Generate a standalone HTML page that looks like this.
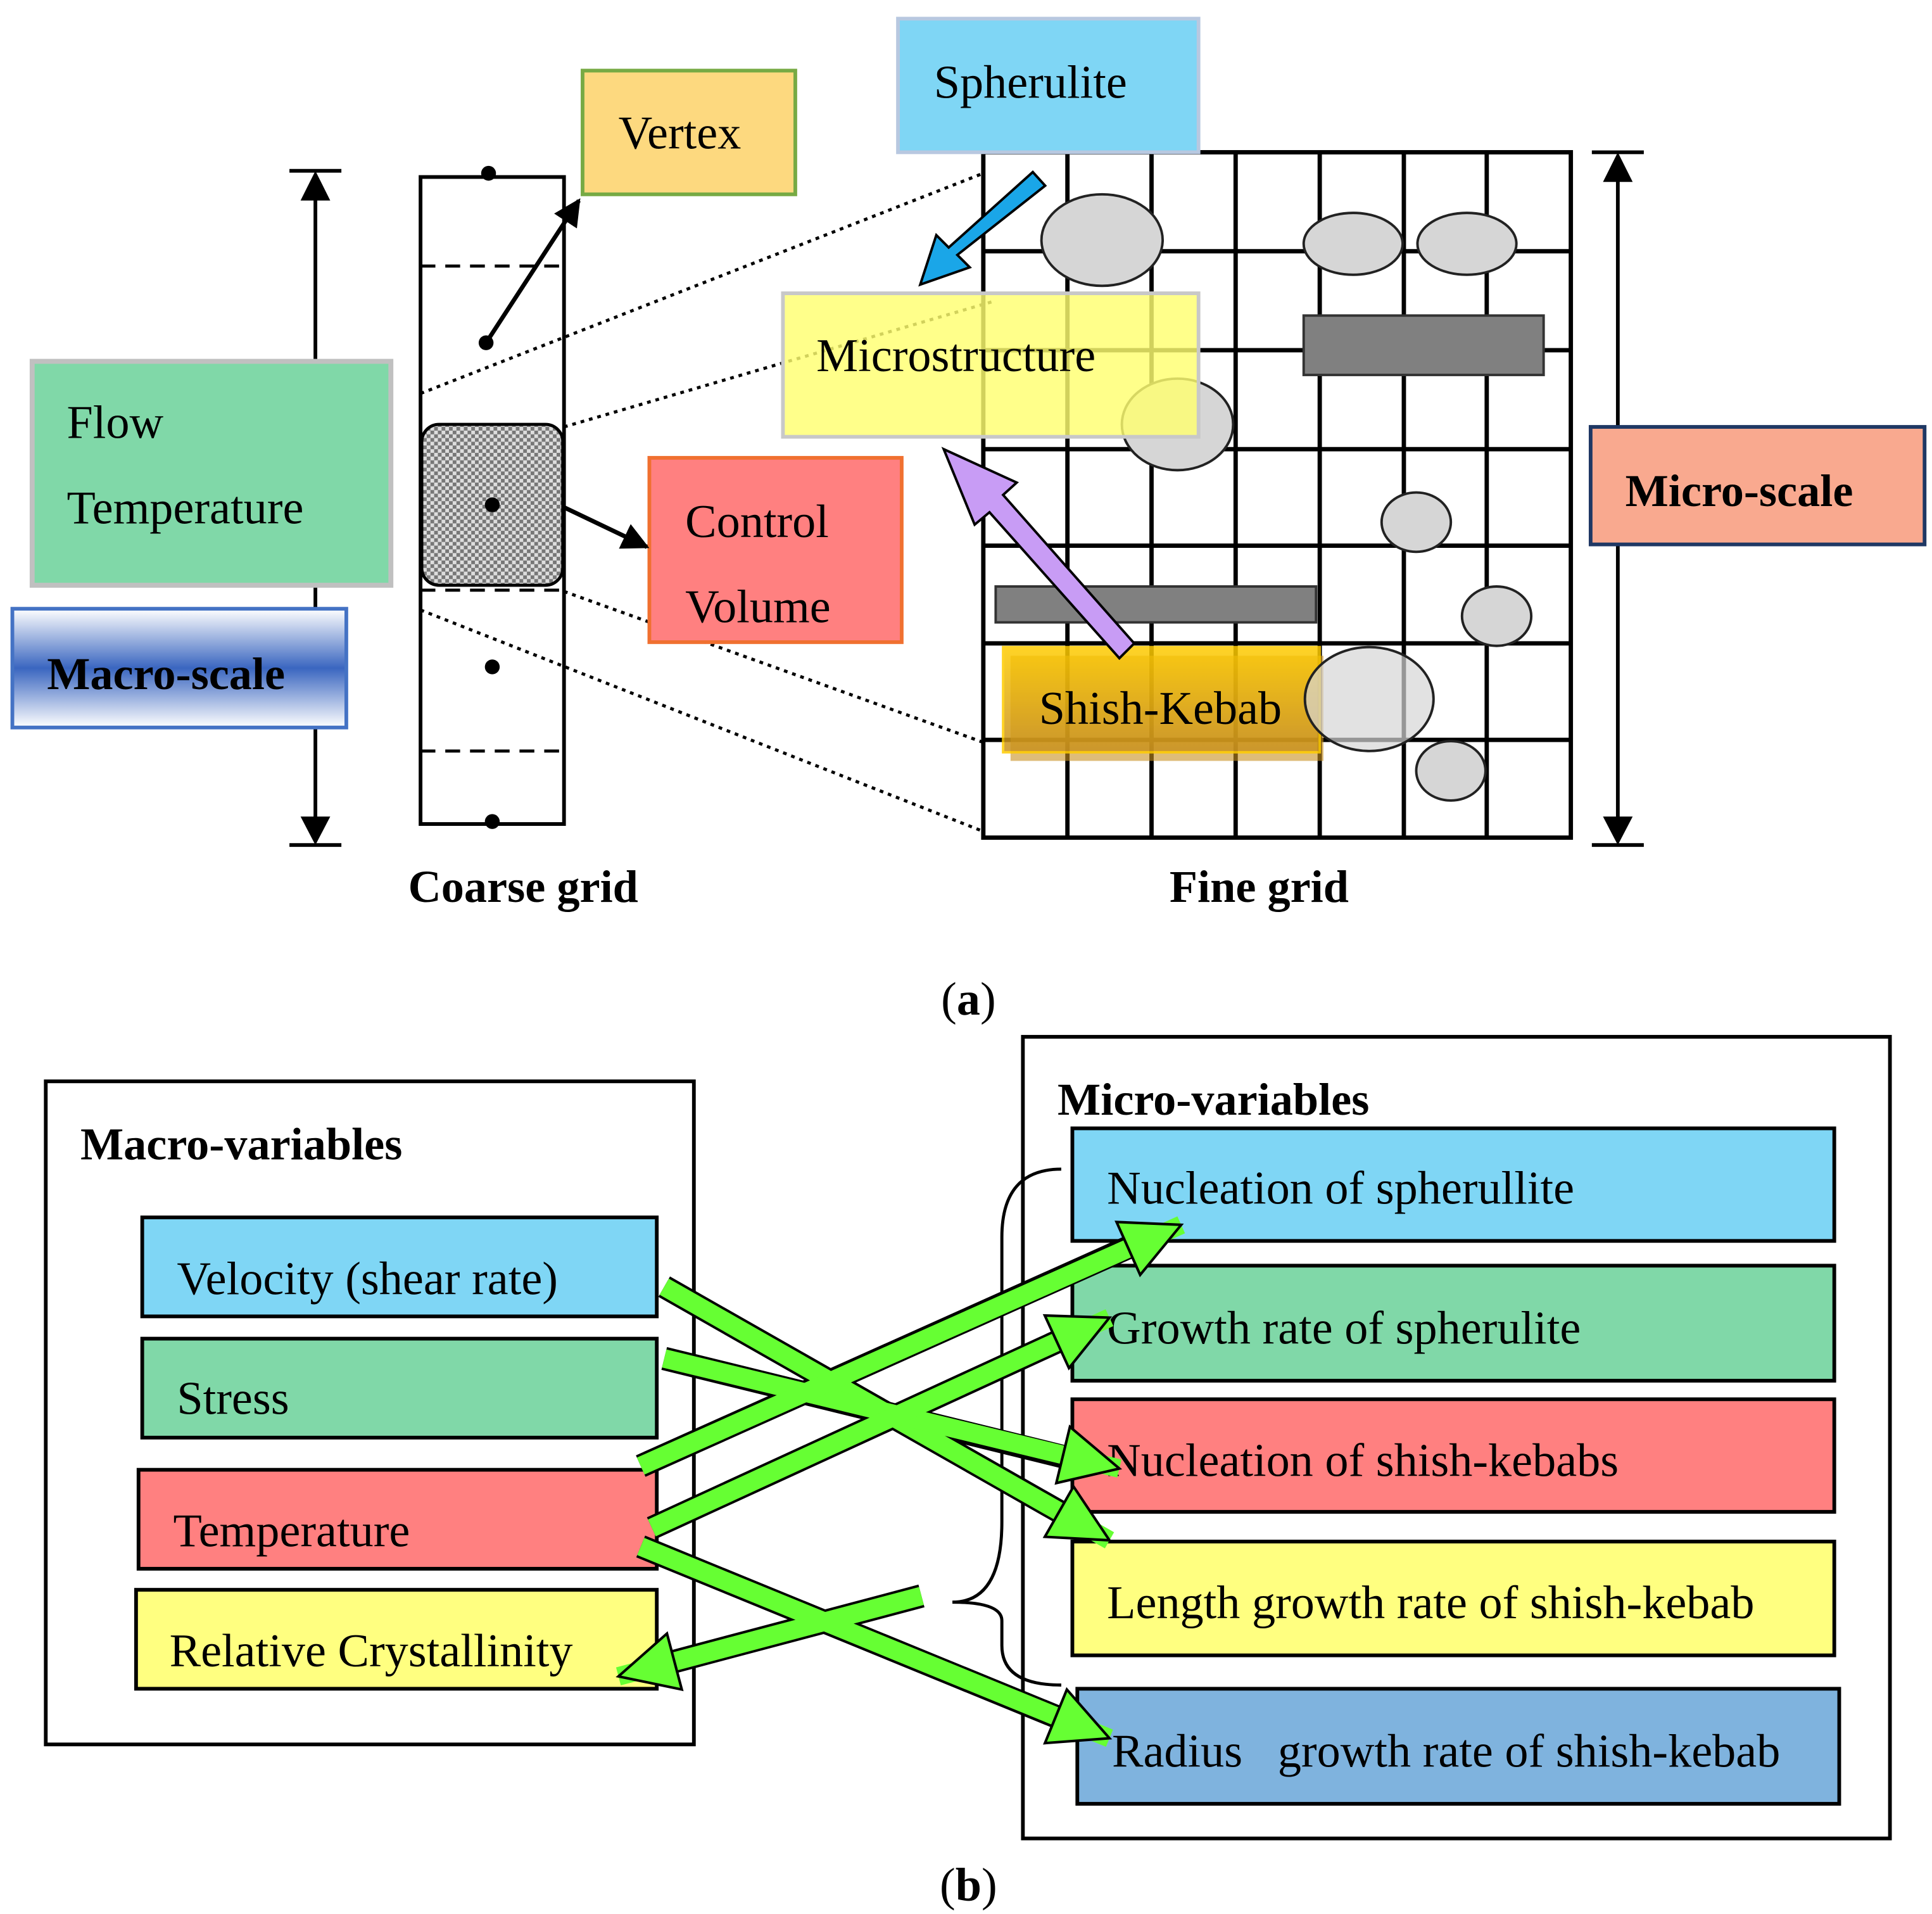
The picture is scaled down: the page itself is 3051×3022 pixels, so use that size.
<!DOCTYPE html>
<html><head><meta charset="utf-8"><style>
html,body{margin:0;padding:0;background:#fff;}
svg{display:block;}
text{font-family:"Liberation Serif",serif;}
</style></head><body>
<svg width="3051" height="3022" viewBox="0 0 1562 1547" xmlns="http://www.w3.org/2000/svg">
<defs>
<pattern id="chk" width="6" height="6" patternUnits="userSpaceOnUse">
<rect width="6" height="6" fill="#ddd"/><rect width="3" height="3" fill="#777"/><rect x="3" y="3" width="3" height="3" fill="#777"/>
</pattern>
<linearGradient id="blueg" x1="0" y1="0" x2="0" y2="1">
<stop offset="0" stop-color="#fff"/><stop offset="0.5" stop-color="#3a66c0"/><stop offset="1" stop-color="#fff"/>
</linearGradient>
<linearGradient id="goldg" x1="0" y1="0" x2="0" y2="1">
<stop offset="0" stop-color="#ffcc00"/><stop offset="1" stop-color="#c89020"/>
</linearGradient>
<marker id="ah" viewBox="0 0 10 10" refX="9" refY="5" markerWidth="22" markerHeight="22" markerUnits="userSpaceOnUse" orient="auto">
<path d="M0,0 L10,5 L0,10 z" fill="#000"/>
</marker>
<marker id="gh" viewBox="0 0 40 40" refX="38" refY="20" markerWidth="52" markerHeight="52" markerUnits="userSpaceOnUse" orient="auto">
<path d="M2,2 L38,20 L2,38 z" fill="#66ff33" stroke="#000" stroke-width="1.6"/>
</marker>
</defs>

<!-- scale arrows -->
<line x1="255" y1="160" x2="255" y2="662" stroke="#000" stroke-width="3"/>
<path d="M243,162 L255,138 L267,162 z M243,660 L255,683 L267,660 z" fill="#000"/>
<line x1="234" y1="138" x2="276" y2="138" stroke="#000" stroke-width="3"/>
<line x1="234" y1="683" x2="276" y2="683" stroke="#000" stroke-width="3"/>
<line x1="1308" y1="145" x2="1308" y2="662" stroke="#000" stroke-width="3"/>
<path d="M1296,147 L1308,123 L1320,147 z M1296,660 L1308,683 L1320,660 z" fill="#000"/>
<line x1="1287" y1="123" x2="1329" y2="123" stroke="#000" stroke-width="3"/>
<line x1="1287" y1="683" x2="1329" y2="683" stroke="#000" stroke-width="3"/>

<!-- coarse grid -->
<rect x="340" y="143" width="116" height="523" fill="none" stroke="#000" stroke-width="3"/>
<g stroke="#000" stroke-width="2.5" stroke-dasharray="12,8">
<line x1="340" y1="215" x2="456" y2="215"/><line x1="340" y1="477" x2="456" y2="477"/><line x1="340" y1="607" x2="456" y2="607"/>
</g>
<rect x="341" y="343" width="114" height="130" rx="14" fill="url(#chk)" stroke="#000" stroke-width="2.5"/>
<g fill="#000"><circle cx="395" cy="140" r="6"/><circle cx="393" cy="277" r="6"/><circle cx="398" cy="408" r="6"/><circle cx="398" cy="539" r="6"/><circle cx="398" cy="664" r="6"/></g>

<!-- fine grid -->
<g stroke="#000" stroke-width="3.5">
<rect x="795" y="123" width="475" height="554" fill="none"/>
<line x1="863" y1="123" x2="863" y2="677"/><line x1="931" y1="123" x2="931" y2="677"/><line x1="999" y1="123" x2="999" y2="677"/><line x1="1067" y1="123" x2="1067" y2="677"/><line x1="1135" y1="123" x2="1135" y2="677"/><line x1="1202" y1="123" x2="1202" y2="677"/>
<line x1="795" y1="203" x2="1270" y2="203"/><line x1="795" y1="283" x2="1270" y2="283"/><line x1="795" y1="363" x2="1270" y2="363"/><line x1="795" y1="441" x2="1270" y2="441"/><line x1="795" y1="520" x2="1270" y2="520"/><line x1="795" y1="598" x2="1270" y2="598"/>
</g>
<g fill="#d6d6d6" stroke="#222" stroke-width="2">
<ellipse cx="891" cy="194" rx="49" ry="37"/><ellipse cx="1094" cy="197" rx="40" ry="25"/><ellipse cx="1186" cy="197" rx="40" ry="25"/>
<ellipse cx="952" cy="343" rx="45" ry="37"/><ellipse cx="1145" cy="422" rx="28" ry="24"/><ellipse cx="1210" cy="498" rx="28" ry="24"/>
<ellipse cx="1173" cy="623" rx="28" ry="24"/>
</g>
<rect x="1054" y="255" width="194" height="48" fill="#808080" stroke="#333" stroke-width="2"/>
<rect x="805" y="474" width="259" height="29" fill="#808080" stroke="#333" stroke-width="2"/>

<!-- dotted lines -->
<g stroke="#000" stroke-width="2.5" stroke-dasharray="3,4">
<line x1="340" y1="318" x2="795" y2="140"/><line x1="456" y1="345" x2="805" y2="243"/>
<line x1="456" y1="478" x2="795" y2="600"/><line x1="340" y1="493" x2="795" y2="672"/>
</g>

<!-- boxes a -->
<rect x="471" y="57" width="172" height="100" fill="#fdd97f" stroke="#77aa44" stroke-width="3"/>
<text x="500" y="120" font-size="38">Vertex</text>
<rect x="726" y="15" width="243" height="108" fill="#7fd6f5" stroke="#b8c8e0" stroke-width="3"/>
<text x="755" y="79" font-size="38">Spherulite</text>
<rect x="26" y="292" width="290" height="181" fill="#80d8a8" stroke="#c0c0c0" stroke-width="4"/>
<text x="54" y="354" font-size="38">Flow</text>
<text x="54" y="423" font-size="38">Temperature</text>
<rect x="10" y="492" width="270" height="96" fill="url(#blueg)" stroke="#4472c4" stroke-width="3"/>
<text x="38" y="557" font-size="37" font-weight="bold">Macro-scale</text>
<rect x="525" y="370" width="204" height="149" fill="#ff8080" stroke="#f07030" stroke-width="3"/>
<text x="554" y="434" font-size="38">Control</text>
<text x="554" y="503" font-size="38">Volume</text>
<rect x="1286" y="345" width="270" height="95" fill="#f9a98f" stroke="#1f3864" stroke-width="3"/>
<text x="1314" y="409" font-size="37" font-weight="bold">Micro-scale</text>
<rect x="817" y="530" width="253" height="85" fill="#c89020" opacity="0.6"/>
<rect x="811" y="523" width="256" height="85" fill="url(#goldg)" opacity="0.85" stroke="#ffcc00" stroke-width="2"/>
<ellipse cx="1107" cy="565" rx="52" ry="42" fill="#d6d6d6" fill-opacity="0.7" stroke="#222" stroke-width="2"/>
<text x="840" y="585" font-size="38">Shish-Kebab</text>
<rect x="633" y="237" width="336" height="116" fill="#ffff70" fill-opacity="0.82" stroke="#c8c8c8" stroke-width="3"/>
<text x="660" y="300" font-size="38">Microstructure</text>

<!-- arrows a -->
<line x1="393" y1="277" x2="468" y2="162" stroke="#000" stroke-width="3.5" marker-end="url(#ah)"/>
<line x1="456" y1="410" x2="523" y2="442" stroke="#000" stroke-width="3.5" marker-end="url(#ah)"/>
<polygon points="845,150 835,139 767,200 757,190 744,230 784,216 774,206" fill="#1aa6e8" stroke="#000" stroke-width="2"/>
<polygon points="917,520 905,532 800,414 788,424 763,363 822,390 811,400" fill="#c89cf5" stroke="#000" stroke-width="2"/>

<text x="423" y="729" font-size="37" font-weight="bold" text-anchor="middle">Coarse grid</text>
<text x="1018" y="729" font-size="37" font-weight="bold" text-anchor="middle">Fine grid</text>
<text x="783" y="820" font-size="38" text-anchor="middle">(<tspan font-weight="bold">a</tspan>)</text>

<!-- part b -->
<rect x="37" y="874" width="524" height="536" fill="none" stroke="#000" stroke-width="3"/>
<text x="65" y="937" font-size="37" font-weight="bold">Macro-variables</text>
<rect x="827" y="838" width="701" height="648" fill="none" stroke="#000" stroke-width="3"/>
<text x="855" y="901" font-size="37" font-weight="bold">Micro-variables</text>

<g stroke="#000" stroke-width="3">
<rect x="115" y="984" width="416" height="80" fill="#7fd6f5"/>
<rect x="115" y="1082" width="416" height="80" fill="#80d8a8"/>
<rect x="112" y="1188" width="419" height="80" fill="#ff8080"/>
<rect x="110" y="1285" width="421" height="80" fill="#ffff80"/>
<rect x="867" y="912" width="616" height="91" fill="#7fd6f5"/>
<rect x="867" y="1023" width="616" height="93" fill="#80d8a8"/>
<rect x="867" y="1131" width="616" height="91" fill="#ff8080"/>
<rect x="867" y="1246" width="616" height="92" fill="#ffff80"/>
<rect x="871" y="1365" width="616" height="93" fill="#7fb3de"/>
</g>
<g font-size="38">
<text x="143" y="1046">Velocity (shear rate)</text>
<text x="143" y="1143">Stress</text>
<text x="140" y="1250">Temperature</text>
<text x="137" y="1347">Relative Crystallinity</text>
<text x="895" y="973">Nucleation of spherullite</text>
<text x="895" y="1086">Growth rate of spherulite</text>
<text x="895" y="1193">Nucleation of shish-kebabs</text>
<text x="895" y="1308">Length growth rate of shish-kebab</text>
<text x="899" y="1428">Radius&#160;&#160;&#160;growth rate of shish-kebab</text>
</g>

<!-- brace -->
<path d="M858,945 Q810,945 810,1000 L810,1230 Q810,1295 770,1295 Q810,1295 810,1310 L810,1330 Q810,1362 858,1362" fill="none" stroke="#000" stroke-width="2.5"/>

<!-- green arrows -->
<g stroke-linecap="butt">
<g stroke="#000" stroke-width="19">
<line x1="537" y1="1040" x2="862" y2="1225"/>
<line x1="537" y1="1098" x2="862" y2="1178"/>
<line x1="518" y1="1185" x2="915" y2="1007"/>
<line x1="527" y1="1235" x2="860" y2="1082"/>
<line x1="518" y1="1250" x2="855" y2="1388"/>
<line x1="745" y1="1290" x2="545" y2="1343"/>
</g>
<g stroke="#66ff33" stroke-width="15">
<line x1="537" y1="1040" x2="897" y2="1245" marker-end="url(#gh)"/>
<line x1="537" y1="1098" x2="905" y2="1187" marker-end="url(#gh)"/>
<line x1="518" y1="1185" x2="955" y2="990" marker-end="url(#gh)"/>
<line x1="527" y1="1235" x2="897" y2="1065" marker-end="url(#gh)"/>
<line x1="518" y1="1250" x2="897" y2="1405" marker-end="url(#gh)"/>
<line x1="745" y1="1290" x2="500" y2="1355" marker-end="url(#gh)"/>
</g>
</g>

<text x="783" y="1536" font-size="38" text-anchor="middle">(<tspan font-weight="bold">b</tspan>)</text>
</svg>
</body></html>
